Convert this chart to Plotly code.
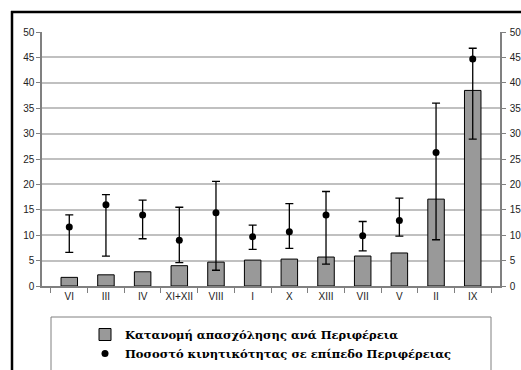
import numpy as np
import plotly.graph_objects as go

regions = ["VI", "III", "IV", "XI+XII", "VIII", "I", "X", "XIII", "VII", "V", "II", "IX"]
employment_share = [1.7, 2.2, 2.8, 4.0, 4.7, 5.1, 5.3, 5.7, 5.9, 6.5, 17.1, 38.5]
mobility_rate = [11.6, 16.0, 14.0, 9.0, 14.4, 9.7, 10.7, 14.0, 9.9, 12.9, 26.3, 44.7]
mobility_high = [14.0, 18.0, 16.9, 15.5, 20.6, 12.0, 16.2, 18.6, 12.7, 17.3, 36.0, 46.8]
mobility_low = [6.6, 5.9, 9.3, 4.6, 3.1, 7.2, 7.4, 4.3, 6.9, 9.8, 9.1, 28.9]

y_ticks = [0, 5, 10, 15, 20, 25, 30, 35, 40, 45, 50]

W, H = 521, 370
L, R, T, B = 42, 21, 32, 84
PW, PH = W - L - R, H - T - B


# pixel -> paper coords (for frame and legend box)
def px(x):
    return (x - L) / PW


def py(y):
    return (H - B - y) / PH


err_plus = np.array(mobility_high) - np.array(mobility_rate)
err_minus = np.array(mobility_rate) - np.array(mobility_low)

tick_font = dict(family="Liberation Sans, Arial", size=10, color="#222")
legend_font = dict(family="DejaVu Serif", size=11.5, color="#000", weight="bold")

fig = go.Figure()

fig.add_trace(go.Bar(
    x=regions,
    y=employment_share,
    name="Κατανομή απασχόλησης ανά Περιφέρεια",
    marker=dict(color="#999999", line=dict(color="#000", width=1)),
    width=0.45,
))

fig.add_trace(go.Scatter(
    x=regions,
    y=mobility_rate,
    yaxis="y2",
    mode="markers",
    name="Ποσοστό κινητικότητας σε επίπεδο Περιφέρειας",
    marker=dict(color="#000", size=7),
    error_y=dict(
        type="data",
        symmetric=False,
        array=err_plus,
        arrayminus=err_minus,
        color="#000",
        thickness=1.3,
        width=4,
    ),
))

fig.update_layout(
    width=W,
    height=H,
    margin=dict(l=L, r=R, t=T, b=B, pad=0, autoexpand=False),
    plot_bgcolor="white",
    paper_bgcolor="white",
    xaxis=dict(
        type="category",
        categoryorder="array",
        categoryarray=regions,
        showline=True,
        linecolor="#808080",
        linewidth=1.5,
        ticks="outside",
        tickson="boundaries",
        ticklen=5,
        tickcolor="#808080",
        tickfont=tick_font,
        tickangle=0,
        showgrid=False,
        automargin=False,
    ),
    yaxis=dict(
        range=[0, 50],
        tickvals=y_ticks,
        showline=True,
        linecolor="#808080",
        linewidth=1.5,
        ticks="outside",
        ticklen=4,
        tickcolor="#808080",
        tickfont=tick_font,
        showgrid=True,
        gridcolor="#c0c0c0",
        gridwidth=1.5,
        zeroline=False,
        automargin=False,
    ),
    yaxis2=dict(
        range=[0, 50],
        tickvals=y_ticks,
        overlaying="y",
        side="right",
        showline=True,
        linecolor="#808080",
        linewidth=1.5,
        ticks="outside",
        ticklen=4,
        tickcolor="#808080",
        tickfont=tick_font,
        ticklabelstandoff=2,
        showgrid=False,
        zeroline=False,
        automargin=False,
    ),
    showlegend=True,
    legend=dict(
        x=px(85),
        y=py(320),
        xanchor="left",
        yanchor="top",
        bgcolor="rgba(0,0,0,0)",
        font=legend_font,
        tracegroupgap=0,
        itemclick=False,
    ),
    bargap=0.5,
    shapes=[
        # outer chart frame (top and left edges visible)
        dict(type="line", xref="paper", yref="paper",
             x0=px(11), x1=px(530), y0=py(12), y1=py(12),
             line=dict(color="#000", width=2.5)),
        dict(type="line", xref="paper", yref="paper",
             x0=px(12), x1=px(12), y0=py(11), y1=py(380),
             line=dict(color="#000", width=2.5)),
        # legend box
        dict(type="rect", xref="paper", yref="paper",
             x0=px(51), x1=px(491), y0=py(317), y1=py(380),
             line=dict(color="#808080", width=1), fillcolor="rgba(0,0,0,0)"),
    ],
)

fig.write_html(
    "out.html",
    config={"displayModeBar": False},
    post_script="document.body.style.margin='0';",
)
